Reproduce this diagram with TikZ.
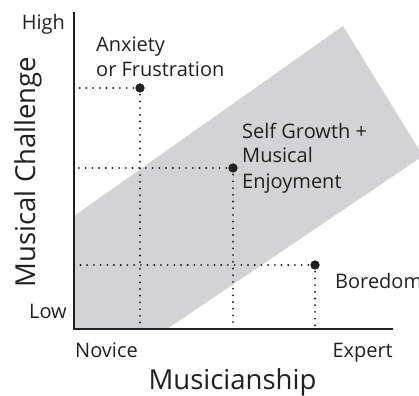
\documentclass[tikz,border=0pt]{standalone}
\usepackage{fontspec}
\setmainfont{Open Sans}
\definecolor{bandgray}{RGB}{211,211,213}
\definecolor{ink}{RGB}{35,31,32}
\tikzset{
  lbl/.style={inner sep=0pt, text=ink, font=\fontsize{20}{25}\selectfont},
  biglbl/.style={inner sep=0pt, text=ink, font=\fontsize{27.5}{34}\selectfont},
  axisline/.style={line width=2.6pt, draw=ink},
  dotline/.style={draw=ink, line width=2.1pt, line cap=round, dash pattern=on 0pt off 6.7pt},
  pt/.style={circle, fill=ink, inner sep=0pt, minimum size=9pt},
}
\begin{document}
\begin{tikzpicture}[x=1pt,y=-1pt]
\useasboundingbox (0,0) rectangle (419,395);
\begin{scope}
\clip (0,0) rectangle (419,395);
\fill[bandgray] (74,216) -- (343,26) -- (423,156) -- (167,329) -- (74,329) -- cycle;
\end{scope}
% named positions
\coordinate (top) at (74,12);
\coordinate (O) at (74,329);
\coordinate (xend) at (393,329);
\node[pt] (A) at (140,88) {};
\node[pt] (S) at (233,168) {};
\node[pt] (B) at (315,265) {};
% dotted guides
\draw[dotline] (A.center) -- (A.center -| O);
\draw[dotline] (A.center) -- (A.center |- O);
\draw[dotline] (S.center) -- (S.center -| O);
\draw[dotline] (S.center) -- (S.center |- O);
\draw[dotline] (B.center) -- (B.center -| O);
\draw[dotline] (B.center) -- (B.center |- O);
% axes
\draw[axisline] (top) -- (O) -- (xend);
\node[pt] at (A) {};
\node[pt] at (S) {};
\node[pt] at (B) {};
% labels
\node[lbl, anchor=base east] (high) at (65,30) {High};
\node[lbl, anchor=base east] (low) at (67,318) {Low};
\node[lbl, anchor=base west, align=left] (anx) at (96,77) {Anxiety\\or Frustration};
\node[lbl, anchor=base west, align=left] (self) at (242,188) {Self Growth +\\Musical\\Enjoyment};
\node[lbl, anchor=base west] (bore) at (335,288) {Boredom};
\node[lbl, anchor=base west] (nov) at (75,357) {Novice};
\node[lbl, anchor=base east] (exp) at (393,357) {Expert};
\node[biglbl, anchor=base] (mus) at (232.5,389) {Musicianship};
\node[biglbl, anchor=base, rotate=90] (chal) at (35,172) {Musical Challenge};
\end{tikzpicture}
\end{document}
